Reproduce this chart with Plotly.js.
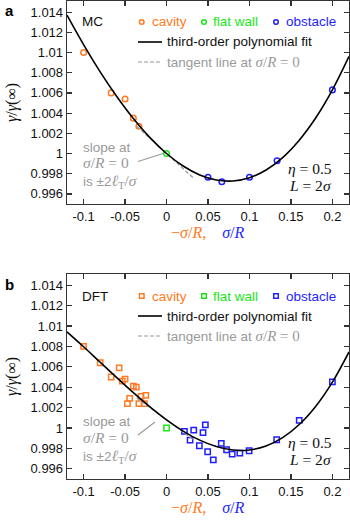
<!DOCTYPE html>
<html>
<head>
<meta charset="utf-8">
<script src="https://cdn.plot.ly/plotly-3.0.1.min.js"></script>
<style>
  body { margin: 0; background: #fff; }
  #plot { width: 350px; height: 523px; }
</style>
</head>
<body>
<div id="plot"></div>
<script>
// MC data (panel a)
const mcCavityX = [-0.1, -0.0667, -0.05, -0.04, -0.0333];
const mcCavityY = [1.0100, 1.0060, 1.0054, 1.0035, 1.0027];
const mcFlatX = [0];
const mcFlatY = [1.0];
const mcObstacleX = [0.05, 0.0667, 0.1, 0.1333, 0.2];
const mcObstacleY = [0.99765, 0.9972, 0.99765, 0.99928, 1.0063];
// fit curve
const fitX = [-0.12, -0.1, -0.08, -0.06, -0.04, -0.02, 0, 0.02, 0.04, 0.06, 0.08, 0.1, 0.12, 0.14, 0.16, 0.18, 0.2, 0.22];
const mcFitY = [1.01370, 1.01078, 1.00808, 1.00564, 1.00346, 1.00157, 1.0, 0.99876, 0.99788, 0.99738, 0.99728, 0.99760, 0.99837, 0.99960, 1.00132, 1.00354, 1.00630, 1.00961];
const mcTangentX = [-0.036, 0.032];
const mcTangentY = [1.0027, 0.9976];

// DFT data (panel b)
const dftCavityX = [-0.1, -0.08, -0.0667, -0.0571, -0.0533, -0.05, -0.04, -0.0364, -0.0444, -0.0471, -0.0308, -0.025, -0.0333, -0.0267];
const dftCavityY = [1.0080, 1.0064, 1.0050, 1.0059, 1.0046, 1.0048, 1.0041, 1.0040, 1.0029, 1.0024, 1.0031, 1.0032, 1.0024, 1.0024];
const dftFlatX = [0];
const dftFlatY = [1.0];
const dftObstacleX = [0.0216, 0.0328, 0.0468, 0.044, 0.0284, 0.0396, 0.0496, 0.0564, 0.066, 0.0724, 0.0792, 0.0884, 0.0996, 0.1328, 0.16, 0.2];
const dftObstacleY = [0.99967, 0.9998, 1.0003, 0.99954, 0.99882, 0.99826, 0.99767, 0.99688, 0.99849, 0.99787, 0.99744, 0.99754, 0.99777, 0.99885, 1.00075, 1.00452];
const dftFitY = [1.00943, 1.00797, 1.00645, 1.00494, 1.00346, 1.00207, 1.00080, 0.99970, 0.99881, 0.99818, 0.99784, 0.99785, 0.99824, 0.99905, 1.00034, 1.00214, 1.00450, 1.00746];
const dftTangentX = [-0.036, 0.032];
const dftTangentY = [1.00296, 0.99888];

const xTicks = [-0.1, -0.05, 0, 0.05, 0.1, 0.15, 0.2];
const xTickText = ['-0.1', '-0.05', '0', '0.05', '0.1', '0.15', '0.2'];
const yTicks = [1.014, 1.012, 1.01, 1.008, 1.006, 1.004, 1.002, 1, 0.998, 0.996];
const yTickText = ['1.014', '1.012', '1.01', '1.008', '1.006', '1.004', '1.002', '1', '0.998', '0.996'];

const ORANGE = '#ff7a22';
const GREEN = '#18e818';
const BLUE = '#1f1fff';
const GRAY = '#9a9a9a';
const SANS = 'Liberation Sans, Arial, sans-serif';
const SERIF = 'Liberation Serif, serif';
const DASH = '4px,2px';

const W = 350, H = 523;
const M = {l: 67, r: 1, t: 1, b: 44};
// pixel -> paper helpers for legend/labels
function fx(p) { return (p - M.l) / (W - M.l - M.r); }
function fy(p) { return 1 - (p - M.t) / (H - M.t - M.b); }

function pts(x, y, color, symbol, size, xa, ya) {
    return {x: x, y: y, xaxis: xa, yaxis: ya, mode: 'markers', type: 'scatter',
        marker: {symbol: symbol, size: size, color: color, line: {width: 1.5, color: color}},
        showlegend: false, hoverinfo: 'skip'};
}
function line(x, y, color, width, dash, xa, ya) {
    return {x: x, y: y, xaxis: xa, yaxis: ya, mode: 'lines', type: 'scatter',
        line: {color: color, width: width, dash: dash, shape: 'spline'},
        showlegend: false, hoverinfo: 'skip'};
}

const traces = [
    pts(mcCavityX, mcCavityY, ORANGE, 'circle-open', 5.6, 'x', 'y'),
    pts(mcFlatX, mcFlatY, GREEN, 'circle-open', 5.6, 'x', 'y'),
    pts(mcObstacleX, mcObstacleY, BLUE, 'circle-open', 5.6, 'x', 'y'),
    line(mcTangentX, mcTangentY, GRAY, 1.2, DASH, 'x', 'y'),
    line(fitX, mcFitY, 'black', 1.6, 'solid', 'x', 'y'),
    pts(dftCavityX, dftCavityY, ORANGE, 'square-open', 5.3, 'x2', 'y2'),
    pts(dftFlatX, dftFlatY, GREEN, 'square-open', 5.3, 'x2', 'y2'),
    pts(dftObstacleX, dftObstacleY, BLUE, 'square-open', 5.3, 'x2', 'y2'),
    line(dftTangentX, dftTangentY, GRAY, 1.2, DASH, 'x2', 'y2'),
    line(fitX, dftFitY, 'black', 1.6, 'solid', 'x2', 'y2')
];

function xaxis(anchor) {
    return {anchor: anchor, range: [-0.12, 0.22], tickvals: xTicks, ticktext: xTickText,
        ticks: 'inside', ticklen: 5, tickwidth: 1.2, tickcolor: '#333',
        showline: true, linecolor: '#333', linewidth: 1.3, mirror: 'allticks',
        showgrid: false, zeroline: false, tickfont: {family: SANS, size: 13, color: '#111'}};
}
function yaxis(anchor, domain) {
    return {anchor: anchor, domain: domain, range: [0.995, 1.0151], tickvals: yTicks, ticktext: yTickText,
        ticks: 'inside', ticklen: 5, tickwidth: 1.2, tickcolor: '#333',
        showline: true, linecolor: '#333', linewidth: 1.3, mirror: 'allticks',
        showgrid: false, zeroline: false, tickfont: {family: SANS, size: 13, color: '#111'}};
}

const annotations = [];
const shapes = [];
function txt(x, y, text, opts) {
    annotations.push(Object.assign({xref: 'paper', yref: 'paper', x: fx(x), y: fy(y), text: text,
        showarrow: false, xanchor: 'left', yanchor: 'middle',
        font: {family: SANS, size: 13.5, color: '#111'}}, opts || {}));
}
function marker(x, y, color, type) {
    shapes.push({type: type, xref: 'paper', yref: 'paper',
        x0: fx(x - 2.3), x1: fx(x + 2.3), y0: fy(y + 2.3), y1: fy(y - 2.3),
        line: {color: color, width: 1.5}});
}
function seg(x0, x1, y, color, dash) {
    shapes.push({type: 'line', xref: 'paper', yref: 'paper', x0: fx(x0), x1: fx(x1), y0: fy(y), y1: fy(y),
        line: {color: color, width: dash ? 1.2 : 1.6, dash: dash || 'solid'}});
}

// one block per panel: label, legend, slope note, parameters, axis titles
function panel(off, tag, code, sym, px0, py0, px1, py1) {
    txt(3, off + 10, '<b>' + tag + '</b>', {font: {family: SANS, size: 15, color: '#000'}});
    txt(80, off + 22, code);
    marker(141.7, off + 22, ORANGE, sym);
    txt(149.5, off + 22, 'cavity', {font: {family: SANS, size: 13.5, color: ORANGE}});
    marker(204, off + 22, GREEN, sym);
    txt(211, off + 22, 'flat wall', {font: {family: SANS, size: 13.5, color: GREEN}});
    marker(276, off + 22, BLUE, sym);
    txt(284, off + 22, 'obstacle', {font: {family: SANS, size: 13.5, color: BLUE}});
    seg(138, 162, off + 42, 'black');
    txt(165, off + 42, 'third-order polynomial fit');
    seg(138, 162, off + 62, GRAY, DASH);
    txt(165, off + 62, 'tangent line at <span style="font-family:Liberation Serif;font-size:15px"><i>σ</i>/<i>R</i> = 0</span>',
        {font: {family: SANS, size: 13.5, color: GRAY}});
    txt(81, off + 147, 'slope at', {font: {family: SANS, size: 13.5, color: GRAY}});
    txt(81, off + 163, '<i>σ</i>/<i>R</i> = 0', {font: {family: SERIF, size: 15.5, color: GRAY}});
    txt(81, off + 182, 'is ±2<span style="font-family:Liberation Serif;font-size:15.5px"><i>ℓ</i><sub>T</sub>/<i>σ</i></span>',
        {font: {family: SANS, size: 13.5, color: GRAY}});
    shapes.push({type: 'line', xref: 'paper', yref: 'paper', x0: fx(px0), y0: fy(py0), x1: fx(px1), y1: fy(py1),
        line: {color: GRAY, width: 1.2}});
    txt(334, off + 168, '<i>η</i> = 0.5', {xanchor: 'right', font: {family: SERIF, size: 15.5, color: '#111'}});
    txt(334, off + 185, '<i>L</i> = 2<i>σ</i>', {xanchor: 'right', font: {family: SERIF, size: 15.5, color: '#111'}});
    txt(208, off + 233, '<span style="color:' + ORANGE + '">−<i>σ</i>/<i>R</i>,</span>    <span style="color:' + BLUE + '"><i>σ</i>/<i>R</i></span>',
        {xanchor: 'center', font: {family: SERIF, size: 16, color: '#111'}});
    txt(12, off + 103, '<i>γ</i>/<i>γ</i>(∞)', {xanchor: 'center', textangle: -90, font: {family: SERIF, size: 16, color: '#111'}});
}

panel(0, 'a', 'MC', 'circle', 138, 161.5, 163, 153.5);
panel(274, 'b', 'DFT', 'rect', 138, 435, 155, 422);

const layout = {
    width: W, height: H,
    margin: M,
    paper_bgcolor: '#fff', plot_bgcolor: '#fff',
    showlegend: false,
    xaxis: xaxis('y'),
    yaxis: yaxis('x', [fy(204), 1]),
    xaxis2: xaxis('y2'),
    yaxis2: yaxis('x2', [0, fy(274)]),
    annotations: annotations,
    shapes: shapes
};

Plotly.newPlot('plot', traces, layout, {displayModeBar: false, staticPlot: true});
</script>
</body>
</html>
